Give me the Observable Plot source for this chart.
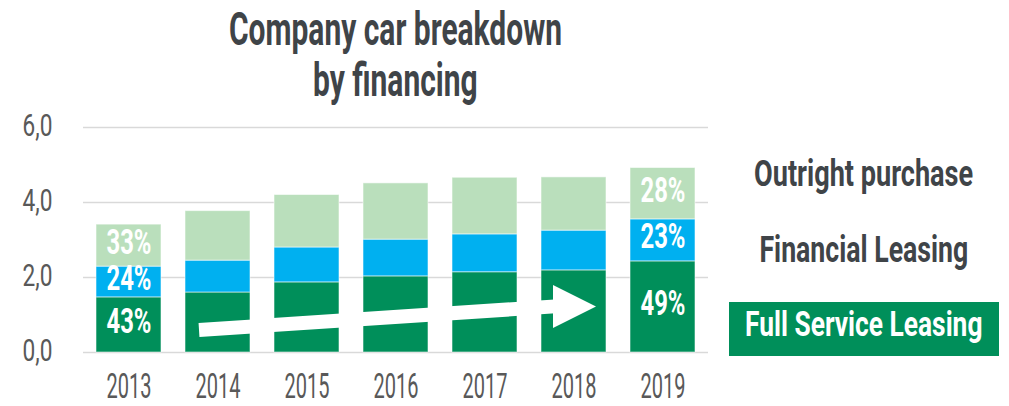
<!DOCTYPE html>
<html>
<head>
<meta charset="utf-8">
<script src="https://cdn.jsdelivr.net/npm/d3@7"></script>
<script src="https://cdn.jsdelivr.net/npm/@observablehq/plot@0.6"></script>
<style>
  html, body { margin: 0; padding: 0; background: #ffffff; }
  body { position: relative; width: 1009px; height: 406px; overflow: hidden; font-family: Roboto, "Liberation Sans", sans-serif; }
  .row { position: absolute; white-space: nowrap; text-align: center; }
  .row span { display: inline-block; transform-origin: 50% 50%; }
  #title { left: 0; width: 791px; top: 4px; font-size: 46px; line-height: 51px; font-weight: 700; color: #3f4448; z-index: 2; }
  .leg { left: 564px; width: 600px; font-size: 37px; line-height: 37px; font-weight: 700; color: #3f4448; }
  #fslBox { position: absolute; left: 729px; top: 302px; width: 270px; height: 54px; background: #008f5a; }
  #chart { position: absolute; left: 0; top: 100px; }
</style>
</head>
<body>
<div id="chart"></div>
<div id="title" class="row"><span id="t1">Company car breakdown</span><br><span id="t2">by financing</span></div>
<div id="fslBox"></div>
<div class="row leg" style="top:155px"><span id="l1">Outright purchase</span></div>
<div class="row leg" style="top:231px"><span id="l2">Financial Leasing</span></div>
<div class="row leg" style="top:307px;font-size:35px;line-height:35px;color:#ffffff"><span id="l3">Full Service Leasing</span></div>
<script>
// ---- data ----
const years = ["2013", "2014", "2015", "2016", "2017", "2018", "2019"];
const seriesNames = ["Full Service Leasing", "Financial Leasing", "Outright purchase"];
const fullServiceLeasing = [1.47, 1.60, 1.87, 2.03, 2.14, 2.19, 2.43];
const financialLeasing   = [0.82, 0.85, 0.93, 0.98, 1.01, 1.06, 1.12];
const outrightPurchase   = [1.12, 1.32, 1.40, 1.50, 1.51, 1.42, 1.37];
const seriesColors = ["#008f5a", "#00b0f0", "#badfbc"];
const labeledYears = ["2013", "2019"];
const yTicks = [0, 2, 4, 6];
const arrowYears = ["2014", "2018"];
const arrowValues = [0.6, 1.23];

// ---- tidy rows ----
const seriesValues = [fullServiceLeasing, financialLeasing, outrightPurchase];
const rows = years.flatMap((year, i) =>
  seriesNames.map((type, s) => ({year, type, value: seriesValues[s][i]})));
const totals = new Map(years.map((y, i) => [y, seriesValues.reduce((a, v) => a + v[i], 0)]));
const arrowData = [{x1: arrowYears[0], y1: arrowValues[0], x2: arrowYears[1], y2: arrowValues[1]}];
const headData = [{year: arrowYears[1], value: arrowValues[1]}];

const rightTriangle = {
  draw(context, size) {
    const r = Math.sqrt(size / Math.PI);
    context.moveTo(-r, -r);
    context.lineTo(r, 0);
    context.lineTo(-r, r);
    context.closePath();
  }
};

const chart = Plot.plot({
  width: 1009,
  height: 306,
  marginLeft: 83,
  marginRight: 301,
  marginTop: 27,
  marginBottom: 54,
  style: {fontFamily: "Roboto, 'Liberation Sans', sans-serif", background: "transparent"},
  x: {domain: years, paddingInner: 0.269, paddingOuter: 0.134, label: null},
  y: {domain: [0, 6], label: null},
  color: {domain: seriesNames, range: seriesColors},
  marks: [
    Plot.gridY(yTicks, {stroke: "#d9d9d9", strokeOpacity: 1, strokeWidth: 1.6}),
    Plot.barY(rows, Plot.stackY({x: "year", y: "value", fill: "type", order: seriesNames,
      stroke: "#ffffff", strokeOpacity: 0.55, strokeWidth: 1})),
    Plot.link(arrowData, {x1: "x1", y1: "y1", x2: "x2", y2: "y2", dx: -19,
      stroke: "#ffffff", strokeWidth: 14, strokeLinecap: "butt"}),
    Plot.dot(headData, {x: "year", y: "value", symbol: rightTriangle, r: 21.5, dx: 0.5,
      fill: "#ffffff", stroke: null}),
    Plot.text(rows, Plot.stackY({
      filter: d => labeledYears.includes(d.year),
      x: "year", y: "value", z: "type", order: seriesNames,
      text: d => Math.round(100 * d.value / totals.get(d.year)) + "%",
      fill: "#ffffff", fontSize: 36, fontWeight: 700, dy: -3.5
    })),
    Plot.axisX({tickSize: 0, tickPadding: 21, fontSize: 35, fill: "#595959", label: null}),
    Plot.axisY({ticks: yTicks, tickSize: 0, tickPadding: 31, fontSize: 32, fill: "#595959",
      tickFormat: d => d.toFixed(1).replace(".", ","), dy: -2, label: null})
  ]
});
document.getElementById("chart").appendChild(chart);

// ---- condense SVG text to match the narrow typeface ----
function squeezeGroup(texts, refText, targetWidth) {
  const arr = Array.from(texts);
  if (!arr.length) return;
  const ref = arr.find(t => t.textContent === refText) || arr[0];
  const w = ref.getBBox().width;
  if (!w) return;
  const k = targetWidth / w;
  arr.forEach(t => {
    const tr = t.getAttribute("transform");
    if (tr) {
      t.setAttribute("transform", tr + ` scale(${k},1)`);
    } else {
      const x = +t.getAttribute("x") || 0, y = +t.getAttribute("y") || 0;
      t.setAttribute("x", 0); t.setAttribute("y", 0);
      t.setAttribute("transform", `translate(${x},${y}) scale(${k},1)`);
    }
  });
}
const svg = chart.tagName.toLowerCase() === "svg" ? chart : chart.querySelector("svg");
squeezeGroup(svg.querySelectorAll('g[aria-label="x-axis tick label"] text'), "2013", 45);
squeezeGroup(svg.querySelectorAll('g[aria-label="y-axis tick label"] text'), "6,0", 30);
squeezeGroup(svg.querySelectorAll('g[aria-label="text"] text'), "33%", 45);

// ---- condense HTML title / legend ----
function fit(id, target, kOverride) {
  const el = document.getElementById(id);
  const w = el.offsetWidth;
  const k = kOverride || target / w;
  el.style.transform = `scaleX(${k})`;
  return k;
}
const kt = fit("t1", 333);
fit("t2", 0, kt);
fit("l1", 219);
fit("l2", 209);
fit("l3", 237);
</script>
</body>
</html>
